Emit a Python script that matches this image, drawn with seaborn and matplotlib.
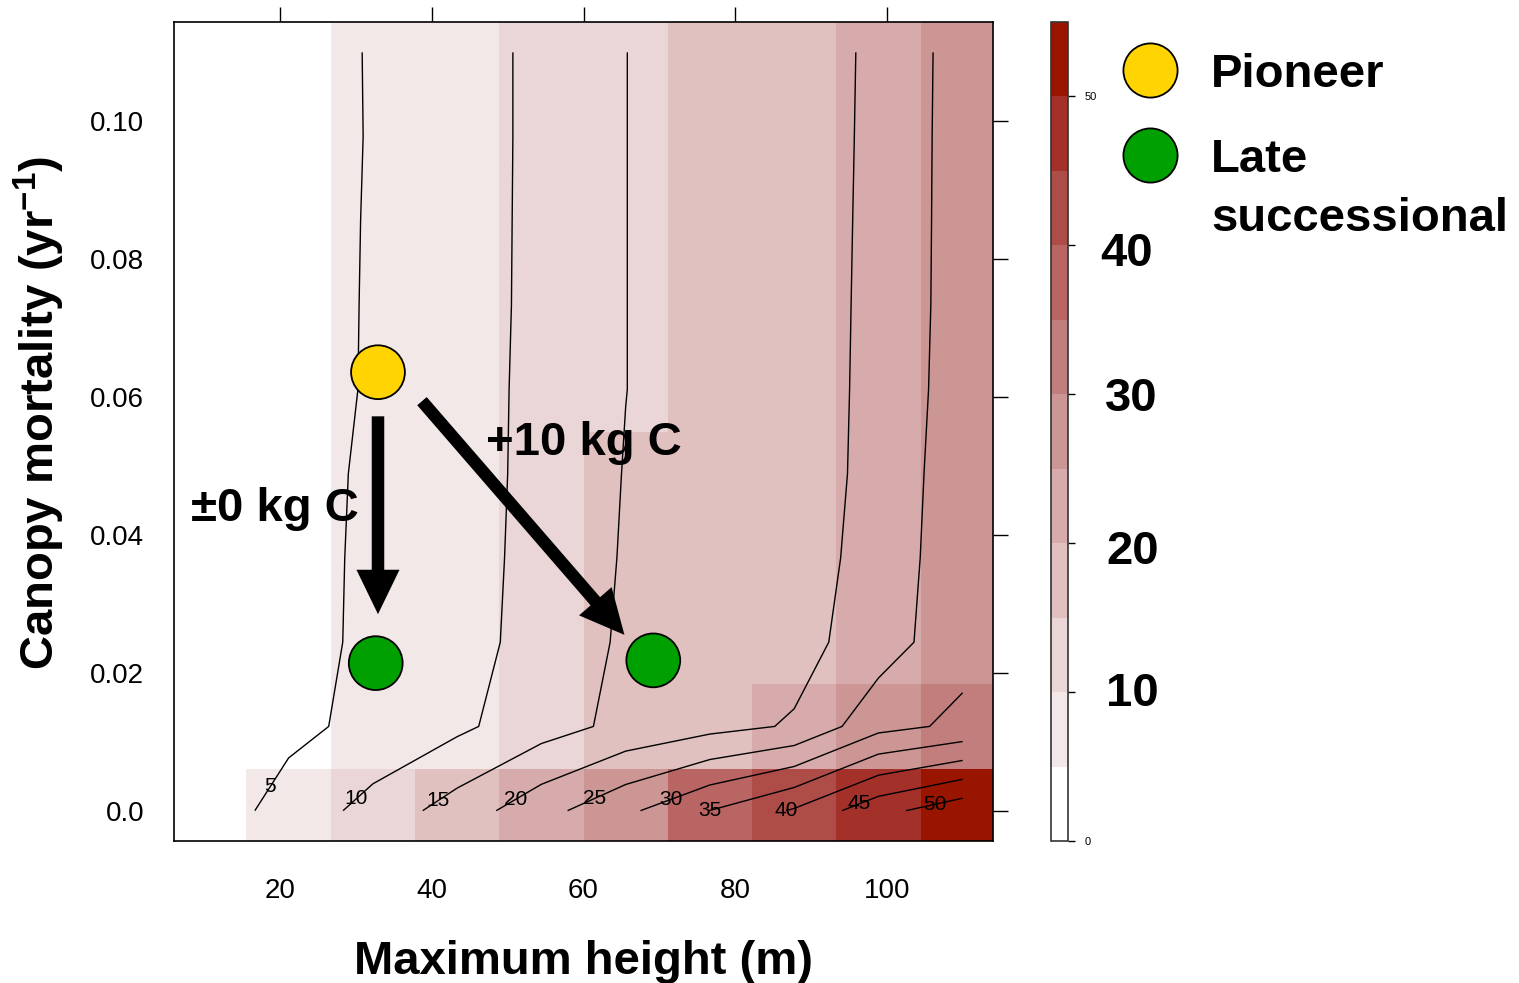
import numpy as np
import pandas as pd
import matplotlib
matplotlib.use("Agg")
import matplotlib.pyplot as plt
import matplotlib.transforms as mtransforms
from matplotlib.colors import ListedColormap, BoundaryNorm
from matplotlib.lines import Line2D
import seaborn as sns

# grid: maximum height (m) x canopy mortality (1/yr)
max_height = [10.0, 21.11, 32.22, 43.33, 54.44, 65.56, 76.67, 87.78, 98.89, 110.0]
mortality = [0.0, 0.01222, 0.02444, 0.03667, 0.04889, 0.06111, 0.07333, 0.08556, 0.09778, 0.11]

# biomass (kg C), one row per mortality value
biomass = [
    [2.5, 6.67, 11.82, 17.19, 23.23, 28.92, 35.05, 40.53, 48.39, 53.3],
    [1.5, 4.0, 6.1, 9.0, 12.9, 16.3, 18.5, 20.45, 28.45, 31.0],
    [2.0, 3.2, 6.0, 8.0, 11.9, 15.7, 17.2, 18.3, 22.44, 28.5],
    [2.0, 3.0, 6.0, 8.0, 11.55, 15.4, 17.0, 18.4, 21.3, 28.76],
    [2.0, 3.0, 5.82, 8.0, 11.33, 15.19, 17.0, 18.5, 20.87, 28.5],
    [2.0, 3.0, 5.43, 8.0, 11.24, 14.95, 17.5, 18.5, 20.78, 27.87],
    [2.0, 3.0, 5.39, 8.0, 11.1, 14.95, 17.5, 18.5, 20.72, 27.6],
    [2.0, 3.0, 5.34, 8.0, 11.06, 14.95, 17.5, 18.5, 20.66, 27.54],
    [2.0, 3.0, 5.26, 8.0, 11.02, 14.95, 17.5, 18.5, 20.60, 27.5],
    [2.0, 3.0, 5.29, 8.0, 11.02, 14.95, 17.5, 18.5, 20.55, 27.41],
]

color_levels = [0, 5, 10, 15, 20, 25, 30, 35, 40, 45, 50, 55]
tile_colors = ["#ffffff", "#f3e8e8", "#ead6d6", "#e0c1c0", "#d7abab", "#cc9695",
               "#c27e7c", "#b86563", "#ae4c48", "#a4302a", "#991500"]
contour_levels = [5, 10, 15, 20, 25, 30, 35, 40, 45, 50]
label_pos = [(19.3, 0.003), (30.4, 0.0013), (41.1, 0.0011), (51.2, 0.0013), (61.6, 0.0013),
             (71.7, 0.0013), (76.6, 0.0003), (86.6, 0.0003), (96.4, 0.0008), (106.4, 0.0009)]

# strategies
point_type = ["Pioneer", "Late successional", "Late successional"]
point_height = [32.9, 32.6, 69.2]
point_mortality = [0.0636, 0.0214, 0.0218]
strategy_colors = {"Pioneer": "#ffd400", "Late successional": "#00a000"}

# arrows: (from, to) and their labels
arrow_from = [(32.9, 0.0572), (38.7, 0.0594)]
arrow_to = [(32.9, 0.0285), (65.4, 0.0255)]
arrow_text = ["\u00b10 kg C", "+10 kg C"]
arrow_text_pos = [(8.2, 0.0437), (47.2, 0.0533)]

x_ticks = [20, 40, 60, 80, 100]
y_ticks = [0.0, 0.02, 0.04, 0.06, 0.08, 0.10]
y_ticklabels = ["0.0", "0.02", "0.04", "0.06", "0.08", "0.10"]
cbar_ticks = [0, 10, 20, 30, 40, 50]
cbar_big_labels = [10, 20, 30, 40]

sns.set_theme(style="white")
plt.rcParams["font.family"] = ["Liberation Sans", "DejaVu Sans"]
plt.rcParams["mathtext.fontset"] = "custom"
plt.rcParams["mathtext.rm"] = "Liberation Sans"
plt.rcParams["mathtext.bf"] = "Liberation Sans:bold"
plt.rcParams["mathtext.default"] = "regular"
plt.rcParams["text.color"] = "black"
plt.rcParams["axes.labelcolor"] = "black"

W, H = 1519, 983
fig = plt.figure(figsize=(W / 100, H / 100), dpi=100)
ax = fig.add_axes([174 / W, 142 / H, 819 / W, 819 / H])
cax = fig.add_axes([1051 / W, 142 / H, 17 / W, 819 / H])

x = np.array(max_height)
y = np.array(mortality)
z = np.array(biomass)

cmap = ListedColormap(tile_colors)
norm = BoundaryNorm(color_levels, cmap.N)
mesh = ax.pcolormesh(x, y, z, cmap=cmap, norm=norm, shading="nearest")

cs = ax.contour(x, y, z, levels=contour_levels, colors="black", linewidths=1.0)
labels = ax.clabel(cs, inline=False, fontsize=15, fmt="%d", manual=label_pos)
for t in labels:
    t.set_rotation(0)

pts = pd.DataFrame({"height": point_height, "mortality": point_mortality, "type": point_type})
sns.scatterplot(data=pts, x="height", y="mortality", hue="type", palette=strategy_colors,
                s=1500, edgecolor="black", linewidth=1.3, legend=False, ax=ax, zorder=5)

for (x0, y0), (x1, y1) in zip(arrow_from, arrow_to):
    ax.annotate("", xy=(x1, y1), xytext=(x0, y0),
                arrowprops=dict(arrowstyle="simple,head_length=32,head_width=31,tail_width=9",
                                mutation_scale=1, color="black", lw=0,
                                shrinkA=0, shrinkB=0), zorder=6)
for txt, (tx, ty) in zip(arrow_text, arrow_text_pos):
    ax.text(tx, ty, txt, fontsize=34, fontweight="bold", ha="left", va="center", zorder=7)

ax.set_xlim(6, 114)
ax.set_ylim(-0.0044, 0.1144)
ax.set_xticks(x_ticks)
ax.set_yticks(y_ticks)
ax.set_yticklabels(y_ticklabels)
ax.tick_params(direction="out", length=10.5, width=1, color="black", top=True, right=True,
               labelsize=20, labelcolor="black")
ax.tick_params(axis="x", pad=16)
ax.tick_params(axis="y", pad=11)
for sp in ax.spines.values():
    sp.set_color("black")
    sp.set_linewidth(1.2)

ax.set_xlabel("Maximum height (m)", fontsize=34, fontweight="bold", labelpad=26)
ax.set_ylabel("Canopy mortality (yr$^{-1}$)", fontsize=34, fontweight="bold")
ax.yaxis.set_label_coords(-0.1307, 0.5226)

cb = fig.colorbar(mesh, cax=cax, ticks=cbar_ticks)
cb.minorticks_off()
cb.outline.set_edgecolor("#333333")
cb.outline.set_linewidth(1.2)
cax.tick_params(direction="out", length=5, width=1, color="black", labelsize=8, pad=7,
                labelcolor="black")
cax.set_yticklabels(["0", "", "", "", "", "50"])
trans = mtransforms.blended_transform_factory(cax.transAxes, cax.transData)
big_label_x = [4.8, 4.8, 4.75, 4.45]
big_label_dy = [-0.1, -0.6, -0.3, -0.6]
for v, cx, dy in zip(cbar_big_labels, big_label_x, big_label_dy):
    cax.text(cx, v + dy, str(v), transform=trans, fontsize=34, fontweight="bold",
             ha="center", va="center")

handles = [Line2D([], [], ls="", marker="o", markersize=39,
                  markerfacecolor=strategy_colors[k], markeredgecolor="black",
                  markeredgewidth=1.3) for k in strategy_colors]
fig.legend(handles, ["Pioneer", "Late"], loc="upper left",
           bbox_to_anchor=(1098 / W, 1 - 29 / H), frameon=False,
           prop={"size": 34, "weight": "bold"}, handlelength=1.2, handletextpad=0.7,
           borderpad=0, labelspacing=0.87)
fig.text(1211 / W, 1 - 219 / H, "successional", fontsize=34, fontweight="bold",
         ha="left", va="center")

fig.savefig("out.png", dpi=100)
